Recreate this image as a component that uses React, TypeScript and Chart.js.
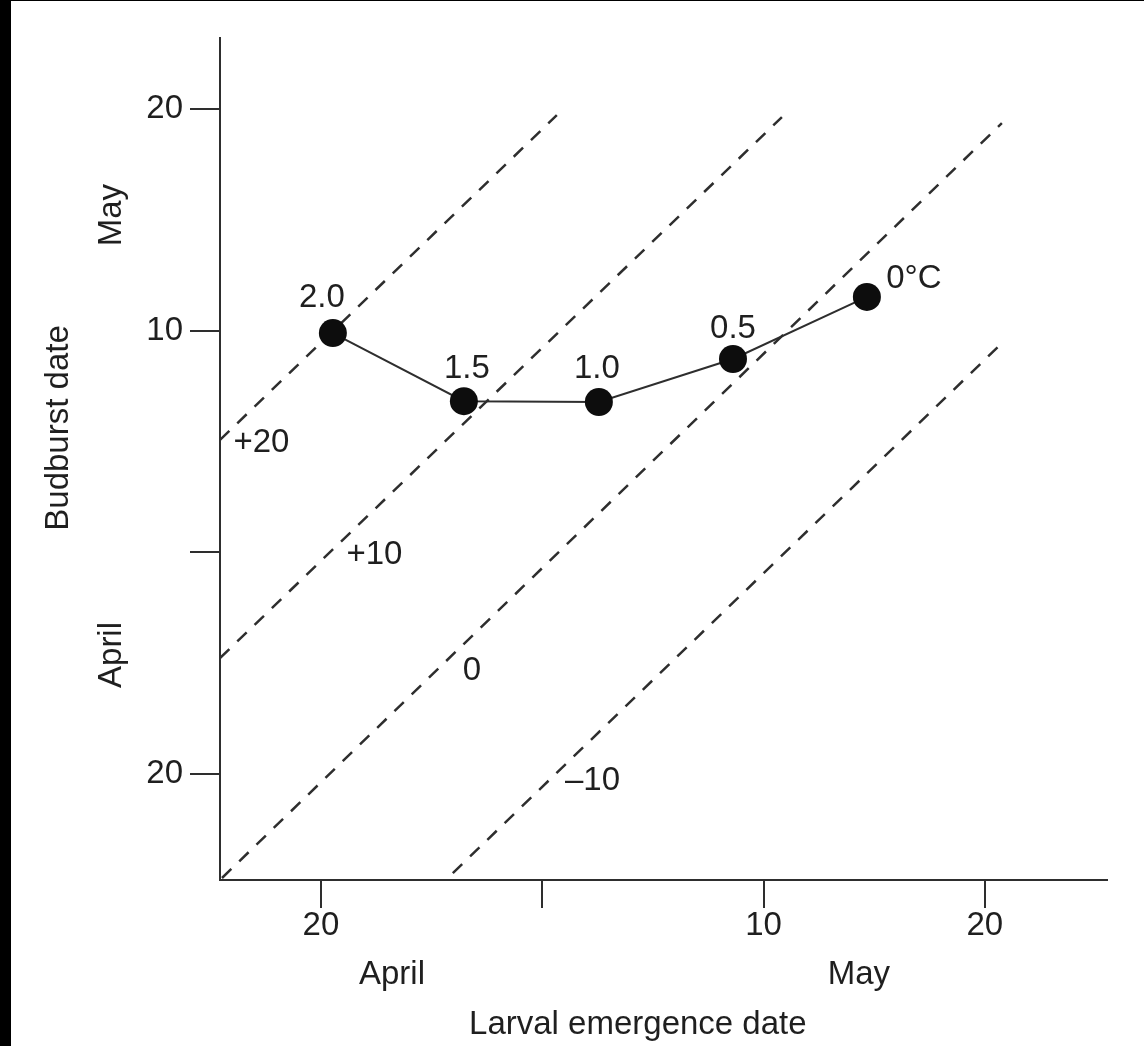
import React, { useEffect, useRef } from "react";
import { Chart, registerables } from "chart.js";

Chart.register(...registerables);

// ---- data ----
const tickValues = [20, 30, 40, 50];
const xTickLabels = ["20", "", "10", "20"];
const yTickLabels = ["20", "", "10", "20"];

// day numbers: April 20 = 20, April 30 = 30, May 10 = 40, May 20 = 50
const larvalDates = [20.54, 26.46, 32.56, 38.62, 44.67];
const budburstDates = [39.89, 36.82, 36.78, 38.72, 41.52];
const pointLabels = ["2.0", "1.5", "1.0", "0.5", "0°C"];

const isoLabels = ["+20", "+10", "0", "–10"];
const isoStartX = [15.44, 15.44, 15.53, 25.96];
const isoStartY = [35.07, 25.23, 15.31, 15.53];
const isoEndX = [30.66, 40.83, 50.77, 50.59];
const isoEndY = [49.72, 49.63, 49.36, 39.26];
const isoLabelX = [17.31, 22.42, 26.82, 32.27];
const isoLabelY = [34.52, 29.47, 24.24, 19.28];

const xMonths = ["April", "May"];
const xMonthAt = [23.21, 44.31];
const yMonths = ["April", "May"];
const yMonthAt = [25.37, 45.21];

const xTitle = "Larval emergence date";
const yTitle = "Budburst date";
const xTitleAt = 34.32;
const yTitleAt = 35.61;

const xRange = [15.44, 55.52];
const yRange = [15.22, 53.2];

// ---- style ----
const FONT = "'Liberation Sans', Arial, Helvetica, sans-serif";
const FS = 33;
const TEXT = "#1f1f1f";
const INK = "#2e2e2e";
const pointLabelOffsets = [
  [-11, -26],
  [3, -23],
  [-2, -24],
  [0, -21],
  [47, -9],
];

const annotate = {
  id: "annotate",
  afterDatasetsDraw(chart: any) {
    const { ctx } = chart;
    const x = chart.scales.x;
    const y = chart.scales.y;
    ctx.save();
    ctx.fillStyle = TEXT;
    ctx.font = `${FS}px ${FONT}`;
    ctx.textBaseline = "alphabetic";
    ctx.textAlign = "center";

    pointLabels.forEach((t, i) => {
      const [dx, dy] = pointLabelOffsets[i];
      ctx.fillText(
        t,
        x.getPixelForValue(larvalDates[i]) + dx,
        y.getPixelForValue(budburstDates[i]) + dy
      );
    });

    isoLabels.forEach((t, i) => {
      ctx.fillText(t, x.getPixelForValue(isoLabelX[i]), y.getPixelForValue(isoLabelY[i]));
    });

    xMonths.forEach((t, i) => {
      ctx.fillText(t, x.getPixelForValue(xMonthAt[i]), x.top + 104);
    });
    ctx.fillText(xTitle, x.getPixelForValue(xTitleAt), x.top + 154);

    yMonths.forEach((t, i) => {
      ctx.save();
      ctx.translate(y.right - 99, y.getPixelForValue(yMonthAt[i]));
      ctx.rotate(-Math.PI / 2);
      ctx.fillText(t, 0, 0);
      ctx.restore();
    });
    ctx.save();
    ctx.translate(y.right - 152, y.getPixelForValue(yTitleAt));
    ctx.rotate(-Math.PI / 2);
    ctx.fillText(yTitle, 0, 0);
    ctx.restore();

    ctx.restore();
  },
};

export default function App() {
  const ref = useRef<HTMLCanvasElement | null>(null);

  useEffect(() => {
    if (!ref.current) return;

    const isoDatasets = isoLabels.map((lab, i) => ({
      label: "iso " + lab,
      data: [
        { x: isoStartX[i], y: isoStartY[i] },
        { x: isoEndX[i], y: isoEndY[i] },
      ],
      borderColor: INK,
      borderWidth: 2.5,
      borderDash: [13, 11],
      pointRadius: 0,
      fill: false,
      tension: 0,
    }));

    const chart = new Chart(ref.current, {
      type: "line",
      data: {
        datasets: [
          {
            label: "Budburst vs larval emergence",
            data: larvalDates.map((v, i) => ({ x: v, y: budburstDates[i] })),
            borderColor: INK,
            borderWidth: 2,
            pointRadius: 14,
            pointBackgroundColor: "#0d0d0d",
            pointBorderColor: "#0d0d0d",
            pointBorderWidth: 0,
            fill: false,
            tension: 0,
          },
          ...isoDatasets,
        ] as any,
      },
      options: {
        animation: false,
        responsive: false,
        devicePixelRatio: 1,
        layout: { padding: { left: 0, top: 38, right: 37, bottom: 0 } },
        plugins: {
          legend: { display: false },
          tooltip: { enabled: false },
        },
        scales: {
          x: {
            type: "linear",
            min: xRange[0],
            max: xRange[1],
            afterFit: (s: any) => {
              s.height = 166;
            },
            afterBuildTicks: (s: any) => {
              s.ticks = tickValues.map((v) => ({ value: v }));
            },
            ticks: {
              callback: (v: any) => xTickLabels[tickValues.indexOf(Number(v))] ?? "",
              color: TEXT,
              font: { family: FONT, size: FS, lineHeight: 1.1 },
              padding: 0,
              maxRotation: 0,
              autoSkip: false,
            },
            grid: {
              drawOnChartArea: false,
              drawTicks: true,
              tickLength: 28,
              color: INK,
              lineWidth: 2,
            },
            border: { display: true, color: INK, width: 2 },
          },
          y: {
            type: "linear",
            min: yRange[0],
            max: yRange[1],
            afterFit: (s: any) => {
              s.width = 220;
            },
            afterBuildTicks: (s: any) => {
              s.ticks = tickValues.map((v) => ({ value: v }));
            },
            ticks: {
              callback: (v: any) => yTickLabels[tickValues.indexOf(Number(v))] ?? "",
              color: TEXT,
              font: { family: FONT, size: FS, lineHeight: 1.1 },
              padding: 7,
              autoSkip: false,
            },
            grid: {
              drawOnChartArea: false,
              drawTicks: true,
              tickLength: 30,
              color: INK,
              lineWidth: 2,
            },
            border: { display: true, color: INK, width: 2 },
          },
        },
      } as any,
      plugins: [annotate],
    });

    return () => chart.destroy();
  }, []);

  return (
    <div style={{ position: "fixed", inset: 0, background: "#000" }}>
      <div
        style={{ position: "absolute", left: 11, top: 1, right: 0, bottom: 0, background: "#fff" }}
      />
      <canvas
        ref={ref}
        width={1144}
        height={1046}
        style={{ position: "absolute", left: 0, top: 0, width: 1144, height: 1046 }}
      />
    </div>
  );
}
